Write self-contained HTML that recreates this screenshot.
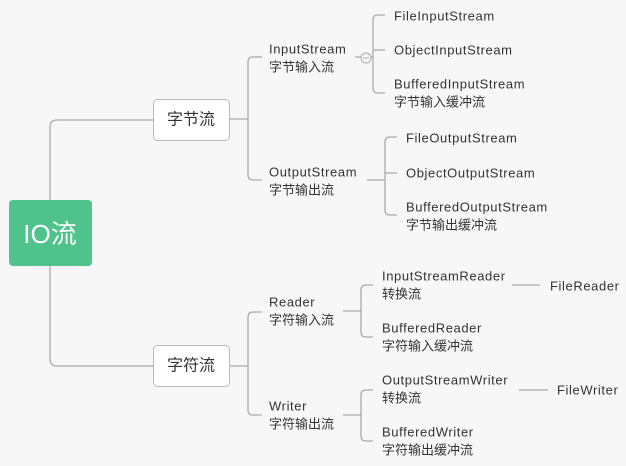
<!DOCTYPE html><html><head><meta charset="utf-8"><style>body{margin:0;background:#f7f7f7}svg{display:block}text{font-family:"Liberation Sans","Noto Sans CJK SC",sans-serif;font-size:13px;fill:#333;dominant-baseline:central}.l{letter-spacing:0.6px}</style></head><body>
<svg width="626" height="466" xmlns="http://www.w3.org/2000/svg">
<rect width="626" height="466" fill="#f7f7f7"/>
<g fill="none" stroke="#aaa" stroke-width="1.3">
<path d="M50 200V127Q50 120 57 120H153"/>
<path d="M50 266V359Q50 366 57 366H153"/>
<path d="M229 119H248M253 57Q248 57 248 62V175Q248 180 253 180H262"/>
<path d="M253 57H262"/>
<path d="M229 366H248M262 312H253Q248 312 248 317V410Q248 415 253 415H262"/>
<path d="M355 57H361M371 57H373"/>
<path d="M385 15H378Q373 15 373 20V88Q373 93 378 93H385M373 50H385"/>
<path d="M367 180H385M397 137H390Q385 137 385 142V210Q385 215 390 215H397M385 173H397"/>
<path d="M343 311H361M373 285H366Q361 285 361 290V332Q361 337 366 337H373"/>
<path d="M343 415H361M373 390H366Q361 390 361 395V436Q361 441 366 441H373"/>
<path d="M512 285H540M519 390H548"/>
</g>
<circle cx="366" cy="58" r="5" fill="#f7f7f7" stroke="#aaa"/><path d="M363 58H369" stroke="#aaa"/>
<rect x="9" y="200" width="83" height="66" rx="4" fill="#4fc38b"/>
<text x="50" y="234" text-anchor="middle" style="font-size:26px;fill:#fff">IO流</text>
<rect x="153.5" y="99.5" width="76" height="41" rx="4" fill="#fff" stroke="#bbb"/>
<text x="191" y="120" text-anchor="middle" style="font-size:16px">字节流</text>
<rect x="153.5" y="345.5" width="76" height="41" rx="4" fill="#fff" stroke="#bbb"/>
<text x="191" y="366" text-anchor="middle" style="font-size:16px">字符流</text>
<text class="l" x="269" y="49">InputStream</text><text x="269" y="67">字节输入流</text>
<text class="l" x="269" y="172">OutputStream</text><text x="269" y="190">字节输出流</text>
<text class="l" x="394" y="16">FileInputStream</text><text class="l" x="394" y="50">ObjectInputStream</text>
<text class="l" x="394" y="84">BufferedInputStream</text><text x="394" y="102">字节输入缓冲流</text>
<text class="l" x="406" y="138">FileOutputStream</text><text class="l" x="406" y="173">ObjectOutputStream</text>
<text class="l" x="406" y="207">BufferedOutputStream</text><text x="406" y="225">字节输出缓冲流</text>
<text class="l" x="269" y="302">Reader</text><text x="269" y="320">字符输入流</text>
<text class="l" x="269" y="406">Writer</text><text x="269" y="424">字符输出流</text>
<text class="l" x="382" y="276">InputStreamReader</text><text x="382" y="294">转换流</text>
<text class="l" x="382" y="328">BufferedReader</text><text x="382" y="346">字符输入缓冲流</text>
<text class="l" x="382" y="380">OutputStreamWriter</text><text x="382" y="398">转换流</text>
<text class="l" x="382" y="432">BufferedWriter</text><text x="382" y="450">字符输出缓冲流</text>
<text class="l" x="550" y="286">FileReader</text><text class="l" x="557" y="390">FileWriter</text>
</svg></body></html>
